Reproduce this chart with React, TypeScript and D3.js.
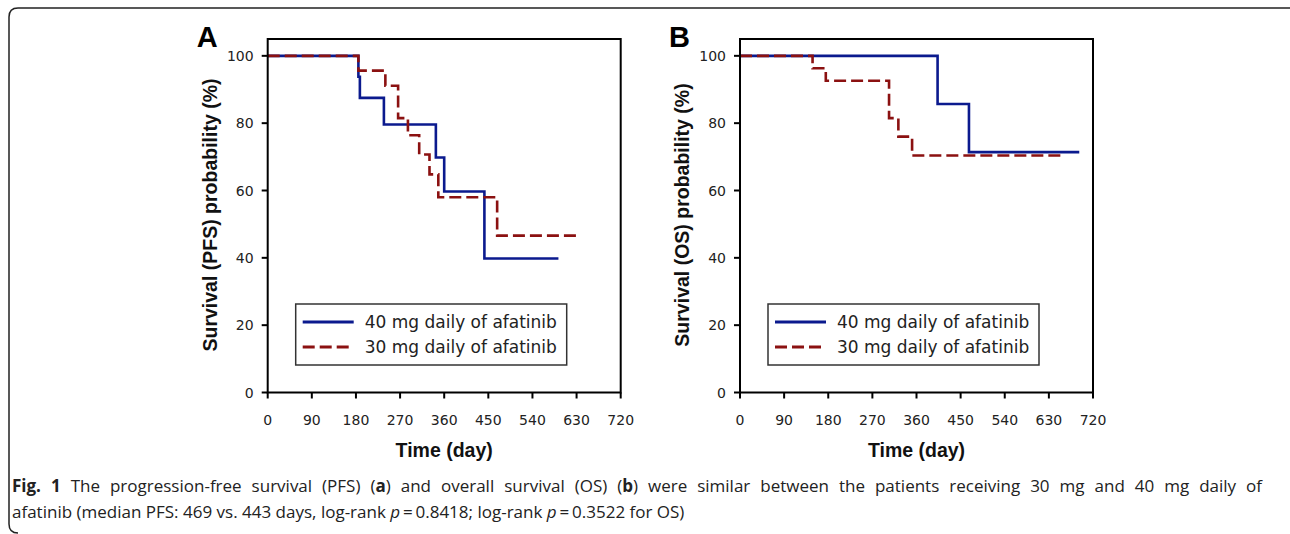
import React, { useEffect, useRef, useState } from 'react';
import * as d3 from 'd3';

// Kaplan-Meier steps (day, survival %)
const pfsDays40 = [0, 185, 188, 237, 343, 360, 442, 593];
const pfsSurv40 = [100, 93.8, 87.5, 79.6, 69.8, 59.7, 39.8, 39.8];
const pfsDays30 = [0, 185, 240, 266, 286, 309, 330, 348, 468, 634];
const pfsSurv30 = [100, 95.6, 91.1, 81.5, 76.4, 70.7, 64.8, 58.0, 46.6, 46.6];

const osDays40 = [0, 403, 467, 692];
const osSurv40 = [100, 85.7, 71.4, 71.4];
const osDays30 = [0, 148, 175, 304, 323, 351, 662];
const osSurv30 = [100, 96.3, 92.6, 81.5, 76.0, 70.4, 70.4];

const seriesNames = ['40 mg daily of afatinib', '30 mg daily of afatinib'];
const xTicks = [0, 90, 180, 270, 360, 450, 540, 630, 720];
const yTicks = [0, 20, 40, 60, 80, 100];

const BLUE = '#0b1a8e';
const RED = '#8b1111';

type PanelProps = {
  left: number;
  letter: string;
  yTitle: string;
  days40: number[];
  surv40: number[];
  days30: number[];
  surv30: number[];
};

function Panel({ left, letter, yTitle, days40, surv40, days30, surv30 }: PanelProps) {
  const top = 39;
  const bottom = 392.5;
  const width = 353;
  const x = d3.scaleLinear().domain([0, 720]).range([left, left + width]);
  const y = d3.scaleLinear().domain([0, 105]).range([bottom, top]);

  const line = d3
    .line<[number, number]>()
    .x((d) => x(d[0]))
    .y((d) => y(d[1]))
    .curve(d3.curveStepAfter);

  const pts40 = days40.map((d, i) => [d, surv40[i]] as [number, number]);
  const pts30 = days30.map((d, i) => [d, surv30[i]] as [number, number]);

  const legX = left + 28;
  const legY = 304;

  return (
    <g>
      <text x={left - 71} y={47} fontFamily="Liberation Sans, Arial, sans-serif" fontWeight="bold" fontSize={29}>
        {letter}
      </text>
      <path d={line(pts40) ?? ''} fill="none" stroke={BLUE} strokeWidth={2.6} />
      <path d={line(pts30) ?? ''} fill="none" stroke={RED} strokeWidth={2.6} strokeDasharray="12,5" />
      <rect x={left} y={top} width={width} height={bottom - top} fill="none" stroke="#000" strokeWidth={2} />
      {yTicks.map((t) => (
        <g key={'y' + t}>
          <line x1={left - 6} x2={left} y1={y(t)} y2={y(t)} stroke="#000" strokeWidth={2} />
          <text
            x={left - 14}
            y={y(t)}
            dy="0.36em"
            textAnchor="end"
            fontFamily="DejaVu Sans, Verdana, sans-serif"
            fontSize={14}
            fill="#222"
          >
            {t}
          </text>
        </g>
      ))}
      {xTicks.map((t) => (
        <g key={'x' + t}>
          <line x1={x(t)} x2={x(t)} y1={bottom} y2={bottom + 6} stroke="#000" strokeWidth={2} />
          <text
            x={x(t)}
            y={425}
            textAnchor="middle"
            fontFamily="DejaVu Sans, Verdana, sans-serif"
            fontSize={14}
            fill="#222"
          >
            {t}
          </text>
        </g>
      ))}
      <text
        x={left + width / 2}
        y={457}
        textAnchor="middle"
        fontFamily="Liberation Sans, Arial, sans-serif"
        fontWeight="bold"
        fontSize={19.5}
        fill="#111"
      >
        Time (day)
      </text>
      <text
        transform={`translate(${left - 51},${215}) rotate(-90)`}
        textAnchor="middle"
        fontFamily="Liberation Sans, Arial, sans-serif"
        fontWeight="bold"
        fontSize={19.5}
        fill="#111"
      >
        {yTitle}
      </text>
      <rect x={legX} y={legY} width={271} height={61} fill="#fff" stroke="#333" strokeWidth={1.5} />
      {seriesNames.map((name, i) => (
        <g key={name}>
          <line
            x1={legX + 7}
            x2={legX + 58}
            y1={legY + 18 + i * 25}
            y2={legY + 18 + i * 25}
            stroke={i === 0 ? BLUE : RED}
            strokeWidth={3}
            strokeDasharray={i === 0 ? undefined : '12,5'}
          />
          <text
            x={legX + 69}
            y={legY + 18 + i * 25}
            dy="0.36em"
            fontFamily="DejaVu Sans, Verdana, sans-serif"
            fontSize={17}
            fill="#222"
          >
            {name}
          </text>
        </g>
      ))}
    </g>
  );
}

export default function App() {
  const capFont = 'Open Sans, Noto Sans, sans-serif';
  const line1Ref = useRef<SVGTextElement>(null);
  const [wordGap, setWordGap] = useState(0);

  // caption line 1 is justified: spread the words so it ends at the right margin
  useEffect(() => {
    const el = line1Ref.current;
    if (!el || wordGap !== 0) return;
    const len = el.getComputedTextLength();
    const spaces = (el.textContent ?? '').split(' ').length - 1;
    if (spaces > 0) setWordGap(Math.max(0, (1250 - len) / spaces));
  }, [wordGap]);

  return (
    <svg
      width={1290}
      height={534}
      style={{ position: 'absolute', left: 0, top: 0, background: '#fff' }}
    >
      <rect width={1290} height={534} fill="#fff" />
      <path d="M1290,8 L18,8 Q9,8 9,17 L9,524 Q9,533 18,533" fill="none" stroke="#222" strokeWidth={1.5} />
      <Panel
        left={267.7}
        letter="A"
        yTitle="Survival (PFS) probability (%)"
        days40={pfsDays40}
        surv40={pfsSurv40}
        days30={pfsDays30}
        surv30={pfsSurv30}
      />
      <Panel
        left={740}
        letter="B"
        yTitle="Survival (OS) probability (%)"
        days40={osDays40}
        surv40={osSurv40}
        days30={osDays30}
        surv30={osSurv30}
      />
      <text
        ref={line1Ref}
        x={12}
        y={492}
        fontFamily={capFont}
        fontSize={17}
        fill="#222"
        style={{ wordSpacing: `${wordGap}px` }}
      >
        <tspan fontWeight="bold">Fig. 1</tspan> The progression-free survival (PFS) (<tspan fontWeight="bold">a</tspan>) and overall
        survival (OS) (<tspan fontWeight="bold">b</tspan>) were similar between the patients receiving 30 mg and 40 mg daily of
      </text>
      <text x={12} y={518} fontFamily={capFont} fontSize={17} fill="#222">
        afatinib (median PFS: 469 vs. 443 days, log-rank <tspan fontStyle="italic">p</tspan>{'\u2009=\u2009'}0.8418; log-rank{' '}
        <tspan fontStyle="italic">p</tspan>{'\u2009=\u2009'}0.3522 for OS)
      </text>
    </svg>
  );
}
